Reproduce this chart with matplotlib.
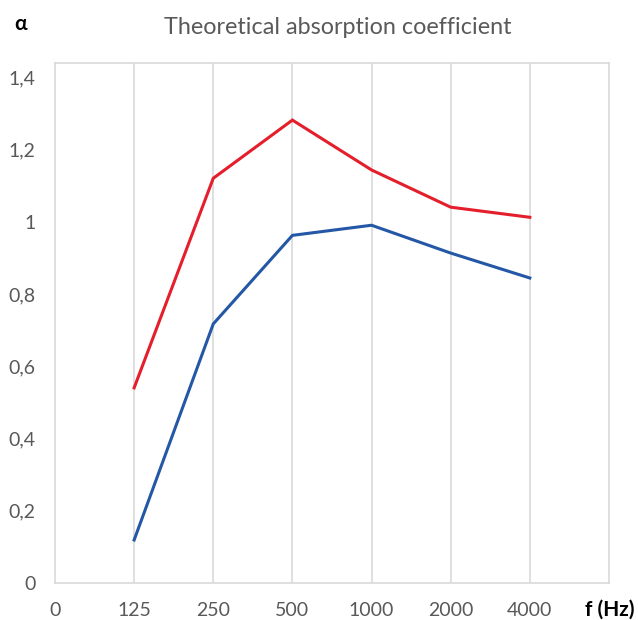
import matplotlib
matplotlib.use("Agg")
import matplotlib.pyplot as plt

# values
freqs = ["0", "125", "250", "500", "1000", "2000", "4000"]
alpha_red = [0.54, 1.12, 1.281, 1.143, 1.040, 1.012]
alpha_blue = [0.119, 0.717, 0.962, 0.990, 0.913, 0.844]
y_ticks = [0, 0.2, 0.4, 0.6, 0.8, 1.0, 1.2, 1.4]
y_labels = ["0", "0,2", "0,4", "0,6", "0,8", "1", "1,2", "1,4"]

plt.rcParams['font.family'] = ['Lato', 'DejaVu Sans']
grey = '#595959'
grid = '#D9D9D9'

fig = plt.figure(figsize=(6.38, 6.20), dpi=100)
ax = fig.add_axes([0.0862, 0.0597, 0.8683, 0.8387])

x = list(range(1, len(alpha_red) + 1))
ax.plot(x, alpha_red, color='#E41E2B', lw=2.2, solid_joinstyle='miter')
ax.plot(x, alpha_blue, color='#2457A6', lw=2.2, solid_joinstyle='miter')

ax.set_xlim(0, 7)
ax.set_ylim(0, 1.439)
ax.set_xticks(range(len(freqs)))
ax.set_xticklabels(freqs)
ax.set_yticks(y_ticks)
ax.set_yticklabels(y_labels)
ax.tick_params(length=0, labelsize=14, labelcolor=grey)
ax.tick_params(axis='x', pad=14)
ax.tick_params(axis='y', pad=14)

# vertical gridlines only
for xi in range(1, 7):
    ax.axvline(xi, color=grid, lw=1.2, zorder=0)
for s in ax.spines.values():
    s.set_color(grid)
    s.set_linewidth(1.2)

fig.text(0.530, 0.955, "Theoretical absorption coefficient", ha='center', va='center',
         fontsize=16.8, color=grey)
fig.text(0.032, 0.962, "α", ha='center', va='center', fontsize=15,
         fontweight='bold', color='black')
fig.text(0.955, 0.016, "f (Hz)", ha='center', va='center', fontsize=15,
         fontweight='bold', color='black')

fig.savefig("out.png", dpi=100)
